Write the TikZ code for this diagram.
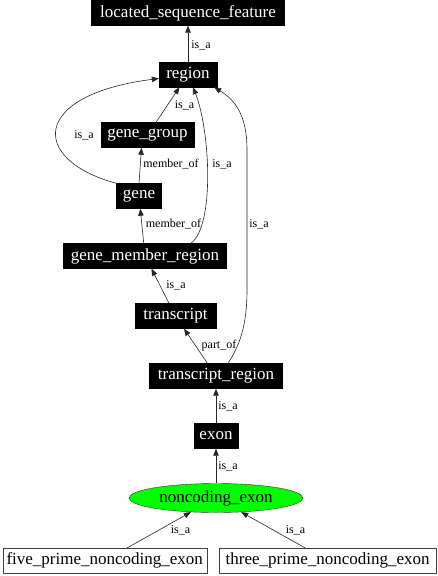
\documentclass[tikz,border=0pt]{standalone}
\usepackage{fontspec}
\setmainfont{Liberation Serif}
\usetikzlibrary{arrows.meta,calc,shapes.geometric}
\newcommand\dgnodefont{\fontsize{17}{19}\selectfont}
\newcommand\dglabelfont{\fontsize{12}{13}\selectfont}
\begin{document}
\begin{tikzpicture}[x=1pt,y=-1pt,
  blk/.style={fill=black, draw=black, text=white, font=\dgnodefont, minimum height=25pt, inner sep=0pt},
  wht/.style={fill=white, draw=black!75, font=\dgnodefont, minimum height=24.5pt, inner sep=0pt},
  ell/.style={ellipse, fill=green, draw=black!80, font=\dgnodefont, minimum width=174pt, minimum height=29pt, inner sep=0pt},
  edge/.style={draw=black!85, line width=0.6pt, -{Triangle[length=7pt,width=5.5pt]}},
  lbl/.style={font=\dglabelfont, inner sep=0pt}]
\useasboundingbox (0,0) rectangle (438,576);
\node[blk, minimum width=193pt] (lsf) at (188,13) {located\_sequence\_feature};
\node[blk, minimum width=58pt] (region) at (188,74.5) {region};
\node[blk, minimum width=93pt] (gg) at (147.5,135) {gene\_group};
\node[blk, minimum width=45pt] (gene) at (139,196) {gene};
\node[blk, minimum width=163pt] (gmr) at (145,256) {gene\_member\_region};
\node[blk, minimum width=81pt] (tx) at (175.5,316) {transcript};
\node[blk, minimum width=133pt] (tr) at (216,376) {transcript\_region};
\node[blk, minimum width=44pt] (exon) at (216,436) {exon};
\node[ell] (nc) at (216,498) {noncoding\_exon};
\node[wht, minimum width=204pt] (five) at (104.7,560.5) {five\_prime\_noncoding\_exon};
\node[wht, minimum width=217pt] (three) at (327.7,560.5) {three\_prime\_noncoding\_exon};

\draw[edge] (region) -- (lsf);
\draw[edge] (gg) -- (region);
\draw[edge] (gene.north west) .. controls (30,160) and (30,95) .. ($(region.west)+(0,4)$);
\draw[edge] (gene.north) -- ($(gg.south)+(-6,0)$);
\draw[edge] (gmr) -- (gene);
\draw[edge] ($(gmr.north)+(46,0)$) .. controls (215,225) and (210,130) .. ($(region.south)+(5,0)$);
\draw[edge] (tx) -- (gmr);
\draw[edge] (tr) -- (tx);
\draw[edge] ($(tr.north)+(12,0)$) .. controls (240,345) and (247,325) .. (247,290) -- (247,150) .. controls (247,115) and (235,100) .. ($(region.south east)+(-3,0)$);
\draw[edge] (exon) -- (tr);
\draw[edge] (nc) -- (exon);
\draw[edge] (five) -- (nc);
\draw[edge] (three) -- (nc);

\node[lbl] (l1) at (201,45) {is\_a};
\node[lbl] (l2) at (184.5,105) {is\_a};
\node[lbl] (l3) at (84,135) {is\_a};
\node[lbl] (l4) at (171,164) {member\_of};
\node[lbl] (l5) at (173.5,224) {member\_of};
\node[lbl] (l6) at (222,164) {is\_a};
\node[lbl] (l7) at (259,224) {is\_a};
\node[lbl] (l8) at (176,285) {is\_a};
\node[lbl] (l9) at (219,346) {part\_of};
\node[lbl] (l10) at (228,406) {is\_a};
\node[lbl] (l11) at (228,466) {is\_a};
\node[lbl] (l12) at (180.5,530) {is\_a};
\node[lbl] (l13) at (295.5,530) {is\_a};
\end{tikzpicture}
\end{document}
